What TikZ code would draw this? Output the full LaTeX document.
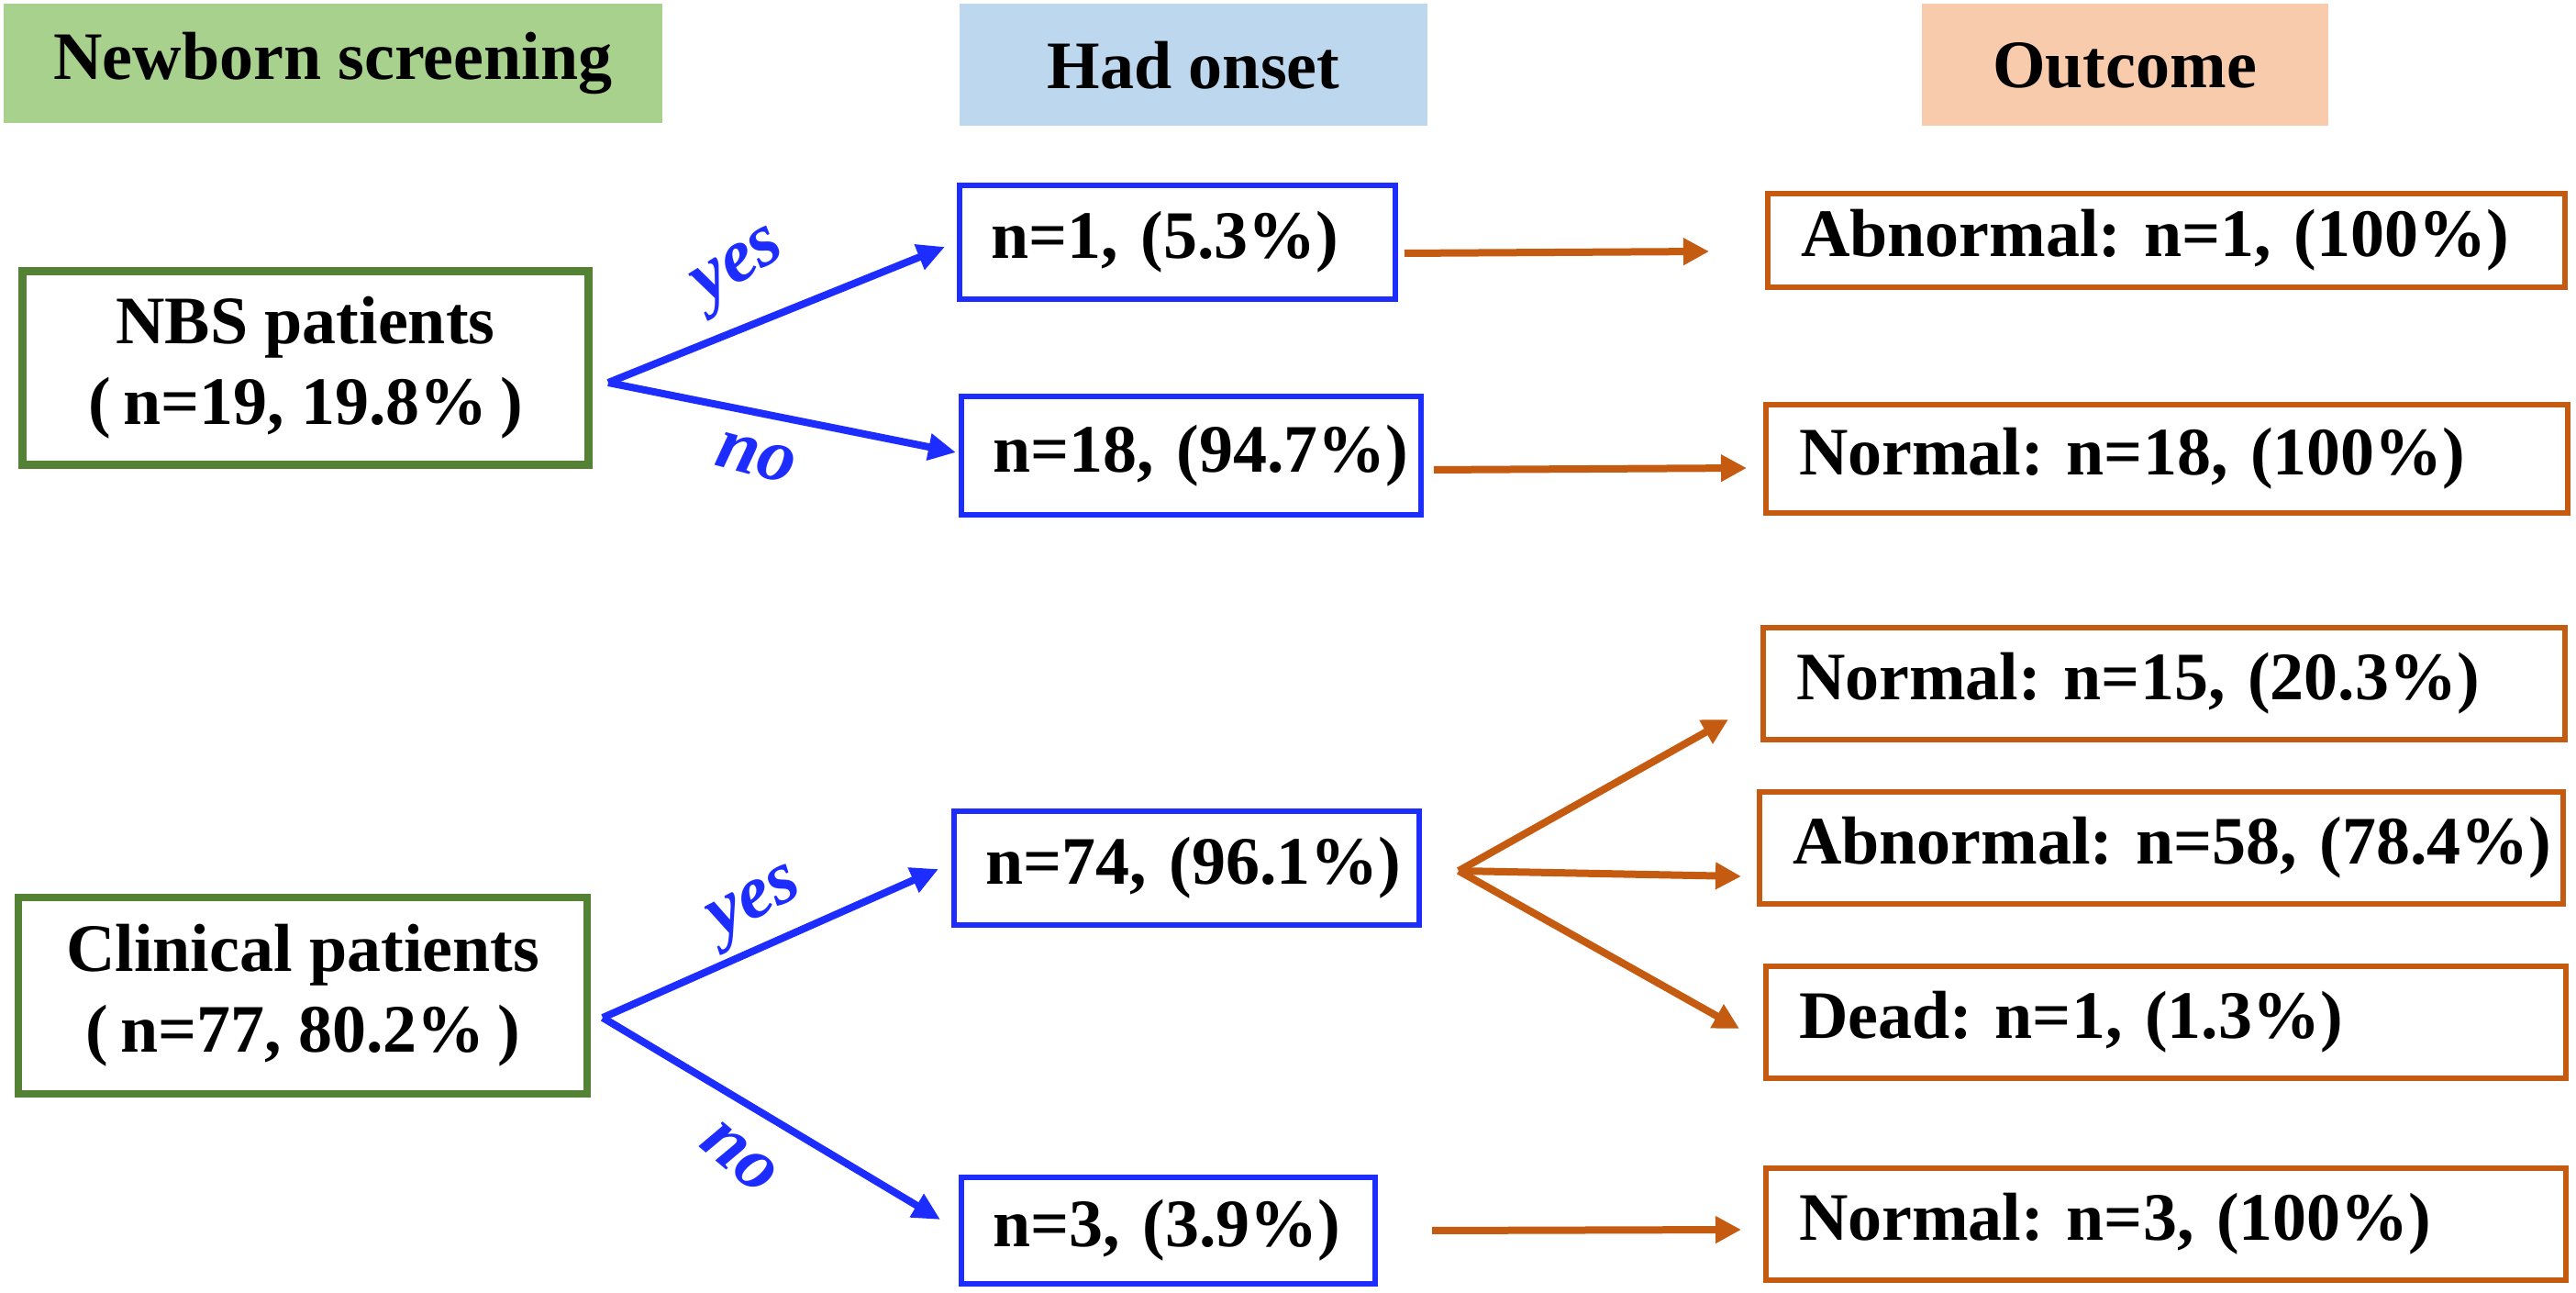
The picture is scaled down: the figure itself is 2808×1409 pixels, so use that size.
\documentclass[tikz,border=0pt]{standalone}
\usepackage{fontspec}
\setmainfont{Liberation Serif}
\usetikzlibrary{arrows.meta}
\frenchspacing
\definecolor{hgreen}{HTML}{A9D18E}
\definecolor{hblue}{HTML}{BDD7EE}
\definecolor{horange}{HTML}{F8CBAD}
\definecolor{bgreen}{HTML}{548235}
\definecolor{bblue}{RGB}{30,45,255}
\definecolor{borange}{HTML}{C55A11}
\tikzset{
  txt/.style={font=\fontsize{18.5}{22}\selectfont\bfseries\frenchspacing, text=black},
  head/.style={txt, inner sep=0pt},
  gbox/.style={txt, draw=bgreen, line width=2.2pt, align=center, inner sep=0pt, fill=white},
  bbox/.style={txt, draw=bblue, line width=1.5pt, inner xsep=8.5pt, inner ysep=0pt, align=left},
  obox/.style={txt, draw=borange, line width=1.5pt, inner xsep=9pt, inner ysep=0pt, align=left},
  barrow/.style={draw=bblue, line width=2pt, -{Triangle[length=7.5pt,width=7pt]}},
  oarrow/.style={draw=borange, line width=2pt, -{Triangle[length=7pt,width=7pt]}},
  lbl/.style={font=\fontsize{20.5}{22}\selectfont\bfseries\itshape, text=bblue, inner sep=0pt}
}
\begin{document}
\begin{tikzpicture}[x=0.25pt,y=-0.25pt]
\useasboundingbox (0,0) rectangle (2808,1409);
% headers
\node[head, fill=hgreen, minimum width=179.5pt, minimum height=32.5pt] (h1) at (363,69) {Newborn screening};
\node[head, fill=hblue, minimum width=127.5pt, minimum height=33.25pt] (h2) at (1301,71) {Had onset};
\node[head, fill=horange, minimum width=110.75pt, minimum height=33.25pt] (h3) at (2316,71) {Outcome};
% green boxes
\node[gbox, minimum width=154.25pt, minimum height=52.75pt] (g1) at (333,401) {NBS patients\\(\hspace{0.18em}n=19, 19.8\%\hspace{0.18em})};
\node[gbox, minimum width=155pt, minimum height=53.5pt] (g2) at (330,1085) {Clinical patients\\(\hspace{0.18em}n=77, 80.2\%\hspace{0.18em})};
% blue boxes
\node[bbox, text width=101.75pt, minimum height=31pt] (b1) at (1283.5,264) {\mbox{n=1, (5.3\%)}};
\node[bbox, text width=108.25pt, minimum height=32.25pt] (b2) at (1298.5,496.5) {\mbox{n=18, (94.7\%)}};
\node[bbox, text width=109.75pt, minimum height=31pt] (b3) at (1293.5,946) {\mbox{n=74, (96.1\%)}};
\node[bbox, text width=95.75pt, minimum height=29pt] (b4) at (1273.5,1341) {\mbox{n=3, (3.9\%)}};
% orange boxes
\node[obox, text width=199.25pt, minimum height=25.5pt] (o1) at (2361.5,262) {\mbox{Abnormal: n=1, (100\%)}};
\node[obox, text width=200.5pt, minimum height=29.5pt] (o2) at (2362,500) {\mbox{Normal: n=18, (100\%)}};
\node[obox, text width=200.5pt, minimum height=30.5pt] (o3) at (2359,745) {\mbox{Normal: n=15, (20.3\%)}};
\node[obox, text width=201pt, minimum height=30.5pt] (o4) at (2356,924) {\mbox{Abnormal: n=58, (78.4\%)}};
\node[obox, text width=200pt, minimum height=30.5pt] (o5) at (2361,1114) {\mbox{Dead: n=1, (1.3\%)}};
\node[obox, text width=200pt, minimum height=30.5pt] (o6) at (2361,1334) {\mbox{Normal: n=3, (100\%)}};
% coordinates
\coordinate (s1) at (663,417);
\coordinate (y1) at (1030,269);
\coordinate (n1) at (1042,493);
\coordinate (s2) at (657,1109);
\coordinate (y2) at (1023,947);
\coordinate (n2) at (1025,1329);
\coordinate (a1s) at (1531,276);
\coordinate (a1e) at (1863,274);
\coordinate (a2s) at (1563,512);
\coordinate (a2e) at (1904,510);
\coordinate (s3) at (1590,949);
\coordinate (a3e) at (1884,784);
\coordinate (a4e) at (1898,955);
\coordinate (a5e) at (1896,1121);
\coordinate (a6s) at (1561,1341);
\coordinate (a6e) at (1898,1340);
% blue arrows
\draw[barrow] (s1) -- (y1);
\draw[barrow] (s1) -- (n1);
\draw[barrow] (s2) -- (y2);
\draw[barrow] (s2) -- (n2);
% orange arrows
\draw[oarrow] (a1s) -- (a1e);
\draw[oarrow] (a2s) -- (a2e);
\draw[oarrow] (s3) -- (a3e);
\draw[oarrow] (s3) -- (a4e);
\draw[oarrow] (s3) -- (a5e);
\draw[oarrow] (a6s) -- (a6e);
% labels
\node[lbl, rotate=32] (ly1) at (808,295) {yes};
\node[lbl, rotate=-15] (ln1) at (824,499) {no};
\node[lbl, rotate=28] (ly2) at (826,989) {yes};
\node[lbl, rotate=-40] (ln2) at (806,1262) {no};
\end{tikzpicture}
\end{document}
